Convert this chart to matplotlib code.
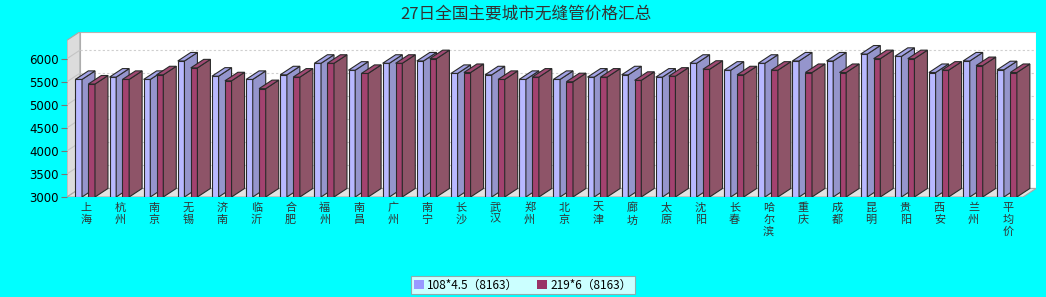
import matplotlib.pyplot as plt
from matplotlib.patches import Polygon, Rectangle, Patch

plt.rcParams['font.family'] = ['Noto Sans CJK SC', 'DejaVu Sans']

title = "27日全国主要城市无缝管价格汇总"
cities = ["上海", "杭州", "南京", "无锡", "济南", "临沂", "合肥", "福州", "南昌", "广州",
          "南宁", "长沙", "武汉", "郑州", "北京", "天津", "廊坊", "太原", "沈阳", "长春",
          "哈尔滨", "重庆", "成都", "昆明", "贵阳", "西安", "兰州", "平均价"]
price_108 = [5550, 5600, 5550, 5950, 5620, 5550, 5650, 5900, 5750, 5900,
             5950, 5680, 5650, 5550, 5550, 5600, 5650, 5600, 5900, 5750,
             5900, 5950, 5950, 6100, 6050, 5700, 5950, 5760]
price_219 = [5450, 5550, 5650, 5800, 5520, 5350, 5600, 5900, 5680, 5900,
             6000, 5700, 5550, 5600, 5500, 5600, 5530, 5620, 5770, 5650,
             5750, 5700, 5700, 6000, 6000, 5750, 5850, 5700]
series_names = ["108*4.5（8163）", "219*6（8163）"]
yticks = [3000, 3500, 4000, 4500, 5000, 5500, 6000]

n = len(cities)
y0, ytop = 3000, 6400
dx, dy = 0.38, 185   # fake 3d depth, in data units

fig = plt.figure(figsize=(10.46, 2.97), dpi=100, facecolor='#00FFFF')
ax = fig.add_axes([67 / 1046, 100 / 297, 969 / 1046, 165.3 / 297])
ax.set_facecolor('none')
ax.set_xlim(0, n + dx)
ax.set_ylim(y0, ytop + dy)
for s in ax.spines.values():
    s.set_visible(False)

# walls and floor
ax.add_patch(Rectangle((dx, y0 + dy), n, ytop - y0, fc='white', ec='#b4b4b4', lw=0.8, zorder=0))
ax.add_patch(Polygon([(0, y0), (dx, y0 + dy), (dx, ytop + dy), (0, ytop)],
                     fc='#dcdcdc', ec='#a8a8a8', lw=0.8, zorder=0))
ax.add_patch(Polygon([(0, y0), (n, y0), (n + dx, y0 + dy), (dx, y0 + dy)],
                     fc='#e2e2e2', ec='#a8a8a8', lw=0.8, zorder=0))
for t in yticks[1:]:
    ax.plot([dx, n + dx], [t + dy, t + dy], ls=(0, (2, 2)), color='#cfcfcf', lw=0.8, zorder=1)
    ax.plot([0, dx], [t, t + dy], color='#c4c4c4', lw=0.8, zorder=1)


def box(x, w, v, front, side, top, z):
    kw = dict(ec='#2a2a2a', lw=0.8, zorder=z)
    ax.add_patch(Rectangle((x, y0), w, v - y0, fc=front, **kw))
    ax.add_patch(Polygon([(x + w, y0), (x + w + dx, y0 + dy), (x + w + dx, v + dy), (x + w, v)],
                         fc=side, **kw))
    ax.add_patch(Polygon([(x, v), (x + w, v), (x + w + dx, v + dy), (x + dx, v + dy)],
                         fc=top, **kw))


bw = 0.195
for i in range(n):
    box(i + 0.245, bw, price_108[i], '#b8b8ff', '#9595cc', '#a3a3e6', 2 + 2 * i)
    box(i + 0.625, bw, price_219[i], '#a3426f', '#8e5468', '#a04a73', 3 + 2 * i)

ax.set_xticks([])
ax.set_yticks(yticks)
ax.set_yticklabels([str(t) for t in yticks], fontsize=8.5, color='black', family='DejaVu Sans')
ax.tick_params(axis='y', length=4, color='#777777', pad=2)

for i, c in enumerate(cities):
    ax.annotate("\n".join(c), xy=(i + 0.55, y0), xytext=(0, -4), textcoords='offset points',
                ha='center', va='top', fontsize=8, color='#333333', linespacing=1.25)

fig.text(0.503, 1 - 14 / 297, title, ha='center', va='center', fontsize=12, color='#333333')

handles = [Patch(fc='#9999ff', ec='none'), Patch(fc='#993366', ec='none')]
leg = fig.legend(handles, series_names, loc='center', bbox_to_anchor=(523 / 1046, 1 - 285 / 297),
                 ncol=2, fontsize=8.5, frameon=True, fancybox=False, edgecolor='#999999',
                 handlelength=0.8, handleheight=0.8, handletextpad=0.3, columnspacing=1.6,
                 borderpad=0.25, borderaxespad=0)
leg.get_frame().set_linewidth(0.8)

fig.savefig('out.png', dpi=100, facecolor=fig.get_facecolor())
